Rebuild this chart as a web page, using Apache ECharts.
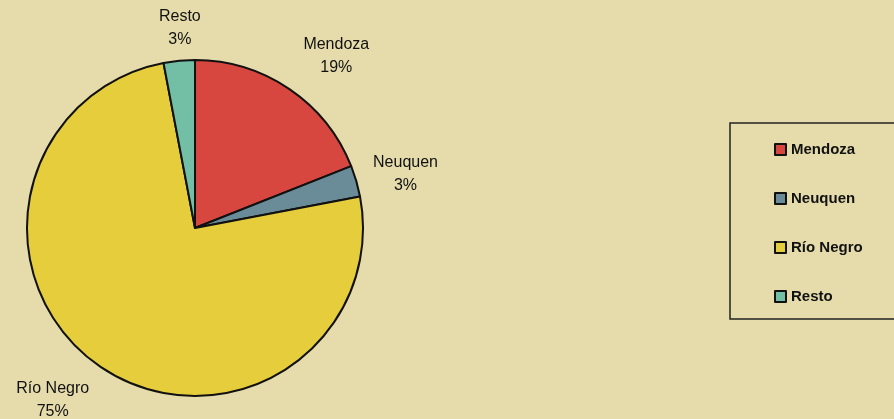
<!DOCTYPE html>
<html>
<head>
<meta charset="utf-8">
<script src="https://cdn.jsdelivr.net/npm/echarts@6/dist/echarts.min.js"></script>
<style>
  html, body { margin: 0; padding: 0; background: #e6dcab; }
  #pie { width: 894px; height: 419px; }
</style>
</head>
<body>
<div id="pie"></div>
<script>
// regiones y porcentajes
const regiones = ['Mendoza', 'Neuquen', 'Río Negro', 'Resto']
const porcentajes = [19, 3, 75, 3]
const colores = ['#d8473f', '#6a8c98', '#e6cd3c', '#72bfa6']
// pequeño corrimiento de cada etiqueta respecto de su posicion por defecto
const ajusteEtiqueta = [[16, 5], [0, 6], [-17, -5], [10, 13]]

let chart = echarts.init(document.getElementById('pie'))
let option = {
  backgroundColor: '#e6dcab',
  color: colores,
  textStyle: {
    fontFamily: 'Liberation Sans, Arial, sans-serif'
  },
  legend: {
    data: regiones,
    orient: 'vertical', // lista vertical
    left: 774,
    top: 142,
    padding: 0,
    itemGap: 34,
    itemWidth: 11,
    itemHeight: 11,
    icon: 'rect',
    itemStyle: {
      borderColor: '#111',
      borderWidth: 2
    },
    textStyle: {
      color: '#111',
      fontSize: 15,
      fontWeight: 'bold'
    }
  },
  graphic: [
    {
      type: 'rect',
      shape: { x: 730, y: 123, width: 180, height: 196 },
      style: { fill: 'none', stroke: '#222', lineWidth: 1.5 }
    }
  ],
  series: [
    {
      type: 'pie',
      center: [195, 228],
      radius: 168,
      startAngle: 90,
      clockwise: true,
      avoidLabelOverlap: false,
      itemStyle: {
        borderColor: '#111',
        borderWidth: 2
      },
      label: {
        show: true,
        position: 'outside',
        formatter: p => p.name + '\n' + p.value + '%',
        color: '#111',
        fontSize: 16,
        lineHeight: 23
      },
      labelLine: {
        show: false,
        length: 46,
        length2: 0
      },
      labelLayout: function(p) {
        let a = ajusteEtiqueta[p.dataIndex]
        return { align: 'center', verticalAlign: 'middle', dx: a[0], dy: a[1] }
      },
      emphasis: { disabled: true },
      data: regiones.map((r, i) => ({ name: r, value: porcentajes[i] }))
    }
  ]
}
chart.setOption(option)
</script>
</body>
</html>
